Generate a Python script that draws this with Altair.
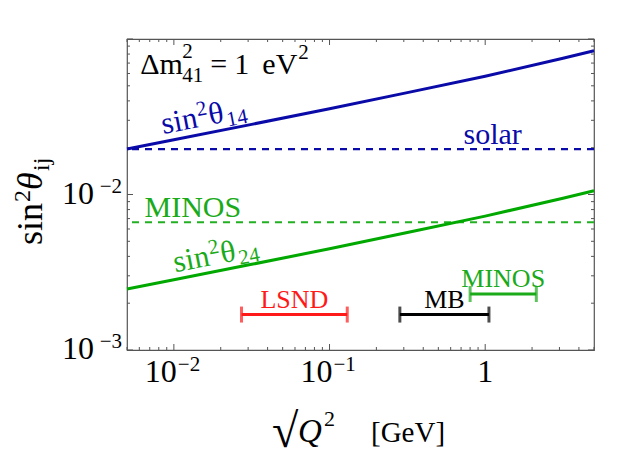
import altair as alt
import pandas as pd

# ---------------- data ----------------
q = [0.005, 0.01, 0.0316, 0.1, 0.316, 1.0, 3.16, 5.0]
sin2_theta14 = [0.0196, 0.02249, 0.02825, 0.03556, 0.04519, 0.05768, 0.07516, 0.0840]
sin2_theta24 = [0.002466, 0.002831, 0.003556, 0.004477, 0.005689, 0.007261, 0.009462, 0.01057]

solar_bound = [0.0196]
minos_bound = [0.00663]

exp_names = ["LSND", "MB", "MINOS"]
exp_qmin = [0.0272, 0.283, 0.80]
exp_qmax = [0.130, 1.057, 2.13]
exp_y = [0.00169, 0.00169, 0.00229]
exp_colors = ["#ff1a1a", "#000000", "#1aaa1a"]

x_major = [0.01, 0.1, 1.0]
x_minor = [0.005, 0.006, 0.007, 0.008, 0.009,
           0.02, 0.03, 0.04, 0.05, 0.06, 0.07, 0.08, 0.09,
           0.2, 0.3, 0.4, 0.5, 0.6, 0.7, 0.8, 0.9,
           2.0, 3.0, 4.0, 5.0]
y_major = [0.001, 0.01, 0.1]
y_minor = [0.002, 0.003, 0.004, 0.005, 0.006, 0.007, 0.008, 0.009,
           0.02, 0.03, 0.04, 0.05, 0.06, 0.07, 0.08, 0.09]

x_pow_vals = [0.01, 0.1]
x_pow_base = ["10", "10"]
x_pow_exp = ["−2", "−1"]
x_plain_vals = [1.0]
x_plain_text = ["1"]
y_pow_vals = [0.001, 0.01]
y_pow_base = ["10", "10"]
y_pow_exp = ["−3", "−2"]

BLUE = "#0a0aa8"
GREEN = "#00a800"
GREEN_TXT = "#1aaa1a"
FONT = "Liberation Serif"

W, H = 467, 311

xs = alt.Scale(type="log", domain=[0.005, 5], nice=False)
ys = alt.Scale(type="log", domain=[0.001, 0.1], nice=False)


def X(f):
    return alt.X(f, type="quantitative", scale=xs, axis=None)


def Y(f):
    return alt.Y(f, type="quantitative", scale=ys, axis=None)


curves = pd.DataFrame({"q": q, "s14": sin2_theta14, "s24": sin2_theta24})

line14 = alt.Chart(curves).mark_line(color=BLUE, strokeWidth=3).encode(x=X("q"), y=Y("s14"))
line24 = alt.Chart(curves).mark_line(color=GREEN, strokeWidth=3).encode(x=X("q"), y=Y("s24"))

solar = alt.Chart(pd.DataFrame({"v": solar_bound})).mark_rule(
    color=BLUE, strokeWidth=2.3, strokeDash=[7, 6]).encode(y=Y("v"))
minos = alt.Chart(pd.DataFrame({"v": minos_bound})).mark_rule(
    color="#22b022", strokeWidth=2, strokeDash=[7, 6]).encode(y=Y("v"))

exp_df = pd.DataFrame({"name": exp_names, "lo": exp_qmin, "hi": exp_qmax,
                       "y": exp_y, "c": exp_colors})
exp_df["mid"] = (exp_df["lo"] * exp_df["hi"]) ** 0.5
caps_df = pd.concat([
    exp_df[["name", "lo", "y", "c"]].rename(columns={"lo": "x"}),
    exp_df[["name", "hi", "y", "c"]].rename(columns={"hi": "x"}),
])

bars = alt.Chart(exp_df).mark_rule(strokeWidth=3).encode(
    x=X("lo"), x2="hi", y=Y("y"), color=alt.Color("c:N", scale=None))
caps = alt.Chart(caps_df).mark_tick(orient="vertical", size=16, thickness=3).encode(
    x=X("x"), y=Y("y"), color=alt.Color("c:N", scale=None))
exp_txt = alt.Chart(exp_df).mark_text(
    font=FONT, fontSize=26, baseline="alphabetic", align="center", dy=-7).encode(
    x=X("mid"), y=Y("y"), text="name:N", color=alt.Color("c:N", scale=None))


def piece(xv, yv, txt, color, size, dx=0, dy=0, angle=0, align="left", style="normal"):
    d = pd.DataFrame({"x": [xv], "y": [yv], "t": [txt]})
    return alt.Chart(d).mark_text(
        font=FONT, fontSize=size, color=color, angle=angle, dx=dx, dy=dy,
        fontStyle=style, align=align, baseline="alphabetic").encode(
        x=X("x"), y=Y("y"), text="t:N")


def vpiece(px, py, txt, size, dx=0, dy=0, angle=0, align="left", style="normal"):
    d = pd.DataFrame({"t": [txt]})
    return alt.Chart(d).mark_text(
        font=FONT, fontSize=size, color="black", angle=angle, dx=dx, dy=dy,
        fontStyle=style, align=align, baseline="alphabetic").encode(
        x=alt.value(px), y=alt.value(py), text="t:N")


# Δm²_41 = 1 eV²
DX0, DY0 = 0.00609, 0.0596
labels = [
    piece(DX0, DY0, "Δm", "black", 30),
    piece(DX0, DY0, "2", "black", 21, dx=42, dy=-16),
    piece(DX0, DY0, "41", "black", 21, dx=42, dy=8),
    piece(DX0, DY0, "=", "black", 30, dx=70),
    piece(DX0, DY0, "1", "black", 30, dx=94),
    piece(DX0, DY0, "eV", "black", 30, dx=122),
    piece(DX0, DY0, "2", "black", 21, dx=158, dy=-15),
]
# sin²θ14 and sin²θ24 along the curves
for (ax, ay, sub, col) in [(0.00856, 0.02449, "14", BLUE), (0.01022, 0.00316, "24", GREEN_TXT)]:
    labels += [
        piece(ax, ay, "sin", col, 31, angle=349),
        piece(ax, ay, "2", col, 21, dx=37, dy=-11, angle=349),
        piece(ax, ay, "θ", col, 31, dx=48, angle=349),
        piece(ax, ay, sub, col, 21, dx=65, dy=5, angle=349),
    ]
labels += [
    piece(1.117, 0.0211, "solar", BLUE, 30, align="center"),
    piece(0.01324, 0.00714, "MINOS", GREEN_TXT, 30, align="center"),
]

# tick labels (base + superscript exponent)
xpow = pd.DataFrame({"v": x_pow_vals, "b": x_pow_base, "e": x_pow_exp})
xpl = pd.DataFrame({"v": x_plain_vals, "b": x_plain_text})
ypow = pd.DataFrame({"v": y_pow_vals, "b": y_pow_base, "e": y_pow_exp})
tick_txt = [
    alt.Chart(xpow).mark_text(font=FONT, fontSize=32, align="right", baseline="alphabetic",
                              dx=3, color="black").encode(x=X("v"), y=alt.value(H + 32), text="b:N"),
    alt.Chart(xpow).mark_text(font=FONT, fontSize=21, align="left", baseline="alphabetic",
                              dx=4, color="black").encode(x=X("v"), y=alt.value(H + 21), text="e:N"),
    alt.Chart(xpl).mark_text(font=FONT, fontSize=32, align="center", baseline="alphabetic",
                             color="black").encode(x=X("v"), y=alt.value(H + 32), text="b:N"),
    alt.Chart(ypow).mark_text(font=FONT, fontSize=32, align="right", baseline="alphabetic",
                              dy=9, color="black").encode(y=Y("v"), x=alt.value(-33), text="b:N"),
    alt.Chart(ypow).mark_text(font=FONT, fontSize=21, align="right", baseline="alphabetic",
                              dy=-2, color="black").encode(y=Y("v"), x=alt.value(-5), text="e:N"),
]

# axis titles
TX, TY = 145, H + 92
YX, YY = -85, 206
titles = [
    vpiece(TX, TY, "√", 48, dy=5),
    vpiece(TX, TY, "Q", 33, dx=26, style="italic"),
    vpiece(TX, TY, "2", 22, dx=52, dy=-16),
    vpiece(TX, TY, "[GeV]", 29, dx=99),
    vpiece(YX, YY, "sin", 36, angle=270),
    vpiece(YX, YY, "2", 24, dx=43, dy=-12, angle=270),
    vpiece(YX, YY, "θ", 36, dx=55, angle=270, style="italic"),
    vpiece(YX, YY, "ij", 24, dx=74, dy=7, angle=270),
]

# frame ticks (inward) on all four sides
xmaj = pd.DataFrame({"v": x_major})
xmin = pd.DataFrame({"v": x_minor})
ymaj = pd.DataFrame({"v": y_major})
ymin = pd.DataFrame({"v": y_minor})
TC = "#555555"
tick_layers = []
for dfv, ln in [(xmaj, 6), (xmin, 3)]:
    tick_layers.append(alt.Chart(dfv).mark_rule(color=TC, strokeWidth=1).encode(
        x=X("v"), y=alt.value(H), y2=alt.value(H - ln)))
    tick_layers.append(alt.Chart(dfv).mark_rule(color=TC, strokeWidth=1).encode(
        x=X("v"), y=alt.value(0), y2=alt.value(ln)))
for dfv, ln in [(ymaj, 6), (ymin, 3)]:
    tick_layers.append(alt.Chart(dfv).mark_rule(color=TC, strokeWidth=1).encode(
        y=Y("v"), x=alt.value(0), x2=alt.value(ln)))
    tick_layers.append(alt.Chart(dfv).mark_rule(color=TC, strokeWidth=1).encode(
        y=Y("v"), x=alt.value(W), x2=alt.value(W - ln)))

chart = alt.layer(
    *tick_layers, solar, minos, line14, line24, bars, caps, exp_txt, *labels,
    *tick_txt, *titles
).properties(
    width=W, height=H,
    padding={"left": 119, "top": 31, "right": 20, "bottom": 114},
    autosize=alt.AutoSizeParams(type="none"),
).configure_view(stroke="#555555", strokeWidth=1.2)

chart.save("out.html", embed_options={"renderer": "svg", "actions": False})
